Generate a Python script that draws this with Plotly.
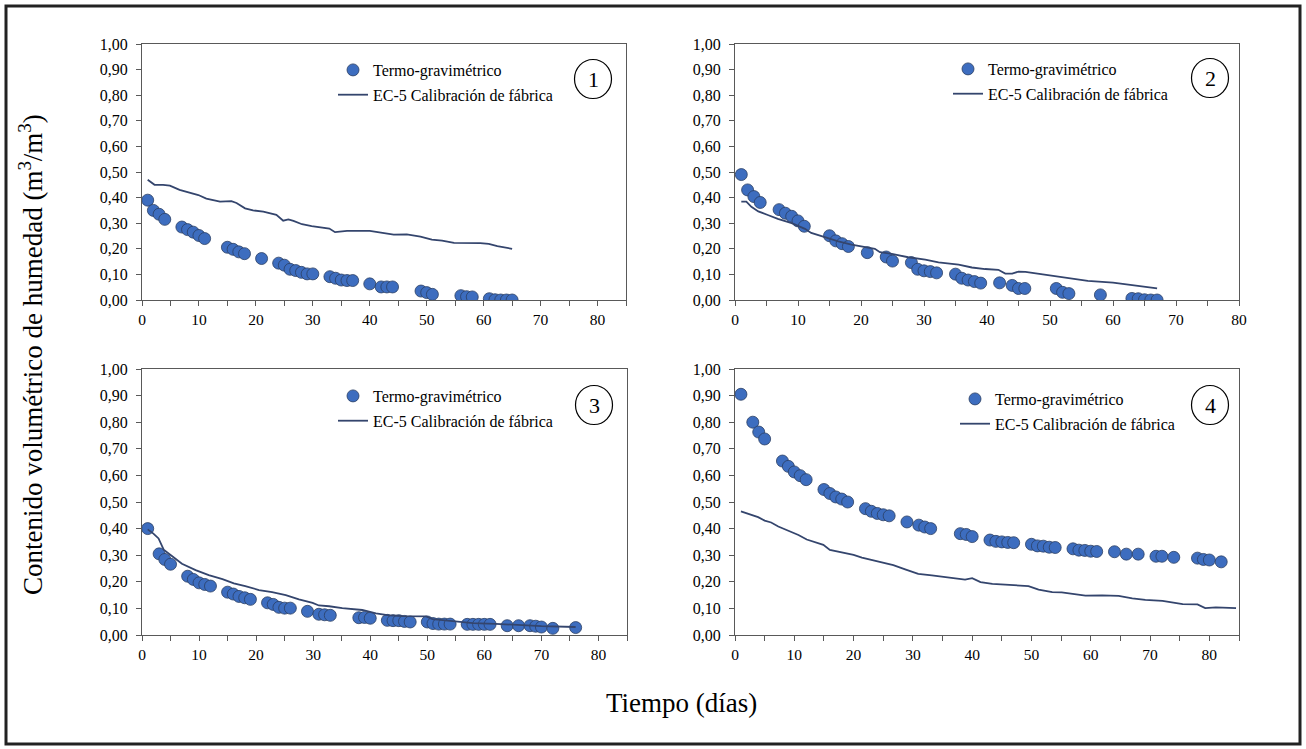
import plotly.graph_objects as go

# ---------------- data ----------------
p1_days = [1, 2, 3, 4, 7, 8, 9, 10, 11, 15, 16, 17, 18, 21, 24, 25, 26, 27, 28, 29, 30,
           33, 34, 35, 36, 37, 40, 42, 43, 44, 49, 50, 51, 56, 57, 58, 61, 62, 63, 64, 65]
p1_tg = [0.39, 0.35, 0.335, 0.315, 0.285, 0.275, 0.265, 0.252, 0.24, 0.206, 0.198, 0.188, 0.181,
         0.162, 0.144, 0.136, 0.12, 0.115, 0.108, 0.102, 0.102, 0.091, 0.085, 0.078, 0.076, 0.076,
         0.063, 0.051, 0.051, 0.051, 0.035, 0.029, 0.022, 0.017, 0.013, 0.012, 0.005, 0.001, 0, 0, 0]
ec1_days = [1, 2.2, 3.7, 4.9, 6.6, 8.4, 9.9, 11.3, 13.7, 15.7, 16.6, 18.1, 19.5, 21.3, 23.6,
            24.8, 25.7, 26.6, 28.1, 29.8, 31.3, 32.9, 33.9, 36, 40, 42.4, 44.2, 46.5, 48.9, 50.9,
            52.7, 54.8, 56.5, 59.4, 60.9, 62.4, 65]
ec1 = [0.47, 0.45, 0.45, 0.447, 0.43, 0.42, 0.41, 0.396, 0.384, 0.386, 0.379, 0.358, 0.35, 0.345,
       0.333, 0.31, 0.315, 0.309, 0.296, 0.289, 0.283, 0.279, 0.265, 0.27, 0.27, 0.261, 0.255,
       0.256, 0.248, 0.236, 0.232, 0.223, 0.223, 0.222, 0.219, 0.21, 0.2]

p2_days = [1, 2, 3, 4, 7, 8, 9, 10, 11, 15, 16, 17, 18, 21, 24, 25, 28, 29, 30, 31, 32,
           35, 36, 37, 38, 39, 42, 44, 45, 46, 51, 52, 53, 58, 63, 64, 65, 66, 67]
p2_tg = [0.49, 0.43, 0.404, 0.381, 0.353, 0.339, 0.327, 0.309, 0.288, 0.251, 0.231, 0.22, 0.209,
         0.185, 0.168, 0.152, 0.146, 0.12, 0.114, 0.111, 0.106, 0.101, 0.085, 0.078, 0.072, 0.066,
         0.067, 0.057, 0.045, 0.045, 0.045, 0.03, 0.025, 0.02, 0.006, 0.005, 0.001, 0, 0]
ec2_days = [1, 1.8, 2.6, 3.7, 5.2, 6.8, 9, 11.1, 12.1, 14.3, 16.4, 18.5, 20.6, 22.2, 23, 24.9,
            27.5, 30.2, 32.3, 35.5, 37.6, 39.7, 41.8, 42.9, 44, 45, 46.1, 49, 52, 56, 60, 64, 67]
ec2 = [0.384, 0.384, 0.364, 0.346, 0.332, 0.317, 0.3, 0.278, 0.262, 0.244, 0.229, 0.216, 0.207,
       0.2, 0.187, 0.18, 0.167, 0.158, 0.147, 0.138, 0.127, 0.121, 0.118, 0.103, 0.103, 0.111,
       0.11, 0.10, 0.09, 0.075, 0.068, 0.055, 0.045]

p3_days = [1, 3, 4, 5, 8, 9, 10, 11, 12, 15, 16, 17, 18, 19, 22, 23, 24, 25, 26, 29, 31, 32, 33,
           38, 39, 40, 43, 44, 45, 46, 47, 50, 51, 52, 53, 54, 57, 58, 59, 60, 61, 64, 66, 68, 69,
           70, 72, 76]
p3_tg = [0.40, 0.305, 0.284, 0.266, 0.221, 0.209, 0.196, 0.19, 0.184, 0.161, 0.154, 0.145, 0.14,
         0.134, 0.121, 0.115, 0.104, 0.101, 0.101, 0.089, 0.078, 0.076, 0.074, 0.065, 0.066, 0.063,
         0.055, 0.054, 0.054, 0.051, 0.049, 0.049, 0.043, 0.041, 0.041, 0.041, 0.04, 0.04, 0.04,
         0.04, 0.04, 0.035, 0.035, 0.035, 0.033, 0.03, 0.025, 0.028]
ec3_days = [1, 2, 2.9, 3.8, 5.3, 7, 9.4, 11.7, 14.1, 16.1, 18.1, 20.5, 22.8, 25.2, 27.5, 29.9, 31,
            32.8, 35.1, 38.6, 41, 43.3, 45.7, 48, 49.8, 50.9, 52.7, 53.9, 58, 62, 66, 70, 76]
ec3 = [0.397, 0.381, 0.363, 0.321, 0.296, 0.268, 0.244, 0.225, 0.21, 0.194, 0.184, 0.169, 0.161,
       0.15, 0.134, 0.121, 0.111, 0.108, 0.101, 0.094, 0.081, 0.074, 0.071, 0.07, 0.07, 0.06,
       0.056, 0.055, 0.045, 0.042, 0.038, 0.033, 0.03]

p4_days = [1, 3, 4, 5, 8, 9, 10, 11, 12, 15, 16, 17, 18, 19, 22, 23, 24, 25, 26, 29, 31, 32, 33,
           38, 39, 40, 43, 44, 45, 46, 47, 50, 51, 52, 53, 54, 57, 58, 59, 60, 61, 64, 66, 68, 71,
           72, 74, 78, 79, 80, 82]
p4_tg = [0.905, 0.80, 0.763, 0.737, 0.654, 0.634, 0.613, 0.599, 0.584, 0.547, 0.532, 0.519, 0.511,
         0.50, 0.475, 0.465, 0.457, 0.452, 0.448, 0.425, 0.413, 0.406, 0.40, 0.381, 0.378, 0.37,
         0.357, 0.352, 0.35, 0.348, 0.347, 0.341, 0.335, 0.334, 0.33, 0.329, 0.324, 0.319, 0.318,
         0.315, 0.314, 0.313, 0.304, 0.304, 0.296, 0.296, 0.292, 0.289, 0.284, 0.282, 0.275]
ec4_days = [1, 2.2, 3, 3.9, 5, 6.1, 7.3, 9, 10.7, 12.1, 13.5, 14.9, 16, 17.4, 19.1, 20, 21.4,
            23.1, 24.7, 26.7, 28.7, 30.9, 33.2, 35.5, 37.7, 38.8, 40, 41.4, 43.4, 45.6, 47.3, 49.5,
            51.2, 53.5, 55.1, 56.8, 59.1, 61.9, 64.7, 67, 69.2, 72.1, 73.2, 75.5, 78, 79.3, 81.1,
            82.2, 84.5]
ec4 = [0.465, 0.456, 0.452, 0.443, 0.43, 0.423, 0.408, 0.392, 0.376, 0.359, 0.348, 0.339, 0.32,
       0.313, 0.304, 0.301, 0.291, 0.282, 0.272, 0.263, 0.247, 0.23, 0.224, 0.218, 0.213, 0.208,
       0.214, 0.199, 0.192, 0.189, 0.185, 0.184, 0.171, 0.161, 0.16, 0.154, 0.148, 0.149, 0.147,
       0.138, 0.132, 0.128, 0.125, 0.116, 0.115, 0.101, 0.104, 0.103, 0.101]

panel_labels = ["1", "2", "3", "4"]
series_names = ["Termo-gravimétrico", "EC-5 Calibración de fábrica"]
y_tickvals = [0.0, 0.1, 0.2, 0.3, 0.4, 0.5, 0.6, 0.7, 0.8, 0.9, 1.0]
y_ticktext = ["0,00", "0,10", "0,20", "0,30", "0,40", "0,50", "0,60", "0,70", "0,80", "0,90", "1,00"]
x_tickvals = [0, 10, 20, 30, 40, 50, 60, 70, 80]
x_ticktext = ["0", "10", "20", "30", "40", "50", "60", "70", "80"]
x_max = [85, 80, 85, 85]
y_title = "Contenido volumétrico de humedad (m<sup>3</sup>/m<sup>3</sup>)"
x_title = "Tiempo (días)"

# ---------------- layout helpers ----------------
W, H = 1306, 749
FONT = "Liberation Serif"
MARKER_COLOR = "#3d6dbf"
MARKER_EDGE = "#2b3f63"
LINE_COLOR = "#34456d"
AXIS_COLOR = "#595959"


def px(x):
    return x / W


def py(y):
    return 1 - y / H


# pixel boxes (left, right, top, bottom)
boxes = [(142, 626, 44, 300), (735, 1239, 44, 300), (142, 627, 369, 635), (735, 1239, 369, 635)]
legend_pos = [(333, 53), (948, 52), (333, 379), (955, 382)]
circle_pos = [(593, 79), (1210, 78), (594, 405), (1210, 405)]

panels = [(p1_days, p1_tg, ec1_days, ec1), (p2_days, p2_tg, ec2_days, ec2),
          (p3_days, p3_tg, ec3_days, ec3), (p4_days, p4_tg, ec4_days, ec4)]

fig = go.Figure()
layout = dict(
    width=W, height=H, margin=dict(l=0, r=0, t=0, b=0, autoexpand=False),
    paper_bgcolor="white", plot_bgcolor="white",
    font=dict(family=FONT, size=15, color="black"),
    shapes=[], annotations=[],
)

for i, (d, tg, ed, ev) in enumerate(panels):
    k = i + 1
    xa = "x" if k == 1 else f"x{k}"
    ya = "y" if k == 1 else f"y{k}"
    lg = "legend" if k == 1 else f"legend{k}"
    fig.add_trace(go.Scatter(
        x=d, y=tg, mode="markers", name=series_names[0], xaxis=xa, yaxis=ya,
        legend=lg, legendgroup=f"a{k}",
        marker=dict(size=12, color=MARKER_COLOR, line=dict(color=MARKER_EDGE, width=0.8)),
    ))
    fig.add_trace(go.Scatter(
        x=ed, y=ev, mode="lines", name=series_names[1], xaxis=xa, yaxis=ya,
        legend=lg, legendgroup=f"b{k}",
        line=dict(color=LINE_COLOR, width=1.8),
    ))
    l, r, t, b = boxes[i]
    xkey = "xaxis" if k == 1 else f"xaxis{k}"
    ykey = "yaxis" if k == 1 else f"yaxis{k}"
    layout[xkey] = dict(
        domain=[px(l), px(r)], anchor=ya, range=[0, x_max[i]],
        tickvals=x_tickvals, ticktext=x_ticktext, ticks="outside", ticklen=5,
        tickcolor=AXIS_COLOR, showline=True, linecolor=AXIS_COLOR, linewidth=1.3, mirror=True,
        showgrid=False, zeroline=False, tickfont=dict(family=FONT, size=15.5, color="black"),
        minor=dict(dtick=5, tick0=0, ticks="outside", ticklen=5, tickcolor=AXIS_COLOR, showgrid=False),
    )
    layout[ykey] = dict(
        domain=[py(b), py(t)], anchor=xa, range=[0, 1],
        tickvals=y_tickvals, ticktext=y_ticktext, ticks="outside", ticklen=5,
        tickcolor=AXIS_COLOR, showline=True, linecolor=AXIS_COLOR, linewidth=1.3, mirror=True,
        showgrid=False, zeroline=False, tickfont=dict(family=FONT, size=16, color="black"),
        ticklabelstandoff=5,
    )
    lx, ly = legend_pos[i]
    layout[lg] = dict(
        x=px(lx), y=py(ly), xanchor="left", yanchor="top", bgcolor="rgba(0,0,0,0)",
        font=dict(family=FONT, size=16, color="black"), traceorder="grouped", tracegroupgap=1,
        itemclick=False, itemdoubleclick=False,
    )
    cx, cy = circle_pos[i]
    rx, ry = 18.5, 19.5
    layout["shapes"].append(dict(type="circle", xref="paper", yref="paper",
                                 x0=px(cx - rx), x1=px(cx + rx), y0=py(cy + ry), y1=py(cy - ry),
                                 line=dict(color="black", width=1.2)))
    layout["annotations"].append(dict(text=panel_labels[i], xref="paper", yref="paper",
                                      x=px(cx), y=py(cy), xanchor="center", yanchor="middle",
                                      showarrow=False,
                                      font=dict(family=FONT, size=22, color="black")))

# outer frame
layout["shapes"].append(dict(type="rect", xref="paper", yref="paper",
                             x0=px(6), x1=px(1300), y0=py(744), y1=py(6),
                             line=dict(color="#222222", width=3)))
layout["annotations"].append(dict(text=y_title, xref="paper", yref="paper", x=px(31), y=py(355),
                                  xanchor="center", yanchor="middle",
                                  textangle=-90, showarrow=False,
                                  font=dict(family=FONT, size=27, color="black")))
layout["annotations"].append(dict(text=x_title, xref="paper", yref="paper", x=px(681), y=py(703),
                                  xanchor="center", yanchor="middle",
                                  showarrow=False, font=dict(family=FONT, size=27, color="black")))

fig.update_layout(**layout)
fig.write_html("out.html", config={"displayModeBar": False},
               post_script="document.body.style.margin='0';document.body.style.overflow='hidden';")
